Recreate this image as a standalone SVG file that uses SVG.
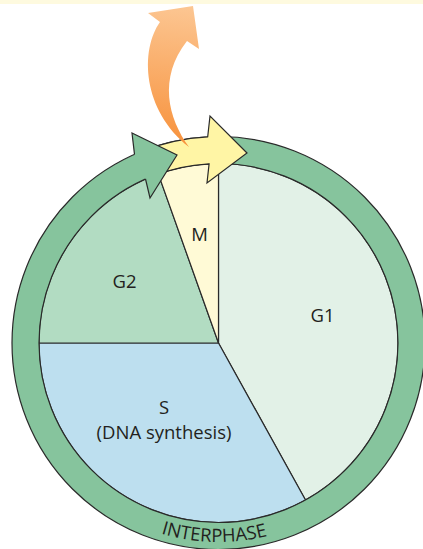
<svg xmlns="http://www.w3.org/2000/svg" width="423" height="549" viewBox="0 0 423 549">
<defs>
<style>
.ol{stroke:#2a2a2a;stroke-width:1.2;stroke-linejoin:miter}
.lbl{font-family:"Open Sans","Liberation Sans",sans-serif;font-size:18.5px;fill:#231f20;text-anchor:middle}
</style>
<linearGradient id="og" gradientUnits="userSpaceOnUse" x1="170" y1="147" x2="185" y2="6">
<stop offset="0" stop-color="#f7913b"/>
<stop offset="1" stop-color="#fcc692"/>
</linearGradient>
<path id="tp" d="M 19.5 343 A 199 199 0 0 0 417.5 343"/>
</defs>
<rect x="0" y="0" width="423" height="4" fill="#fefadf"/>
<g id="G1"><path class="ol" fill="#e2f1e7" d="M218.5 343 L305.5 500 A179.5 179.5 0 0 0 218.5 163.5 Z"/><text class="lbl" x="322.5" y="321.5">G1</text></g>
<g id="S"><path class="ol" fill="#bddfef" d="M218.5 343 L39 343 A179.5 179.5 0 0 0 305.5 500 Z"/><text class="lbl" x="164" y="414">S</text><text class="lbl" x="164" y="439">(DNA synthesis)</text></g>
<g id="G2"><path class="ol" fill="#b2dcc2" d="M218.5 343 L158.3 173.9 A179.5 179.5 0 0 0 39 343 Z"/><text class="lbl" x="124.5" y="287.5">G2</text></g>
<g id="M"><path class="ol" fill="#fffad6" d="M218.5 343 L218.5 163.5 A179.5 179.5 0 0 0 158.3 173.9 Z"/><text class="lbl" x="199.5" y="241">M</text></g>
<g id="interphase">
<path class="ol" fill="#86c49d" fill-rule="evenodd" d="M12 343 A206.5 206.5 0 1 0 425 343 A206.5 206.5 0 1 0 12 343 Z M39 343 A179.5 179.5 0 1 0 398 343 A179.5 179.5 0 1 0 39 343 Z"/>
<text font-family="'Open Sans','Liberation Sans',sans-serif" font-size="18.5" fill="#231f20" text-anchor="middle"><textPath href="#tp" startOffset="49.3%">INTERPHASE</textPath></text>
</g>
<g id="connectors">
<path id="mitosis-arrow" class="ol" fill="#fff5a5" d="M141.1 151.5 A206.5 206.5 0 0 1 207.7 136.8 L210 116 L247 153 L207 183 L209.1 163.8 A179.5 179.5 0 0 0 151.3 176.6 Z"/>
<path fill="#86c49d" d="M134.5 154.4 L132 133 L177 155 L150 198 L145.5 179 Z"/>
<polyline class="ol" fill="none" points="134.5,154.4 132,133 177,155 150,198 145.5,179"/>
<path id="exit-arrow" fill="url(#og)" d="M189 147 C168 118 158 78 187 41 L199 49 L193 6 L148 13 L160 22 C140 50 142 110 189 147 Z"/>
</g>
</svg>
